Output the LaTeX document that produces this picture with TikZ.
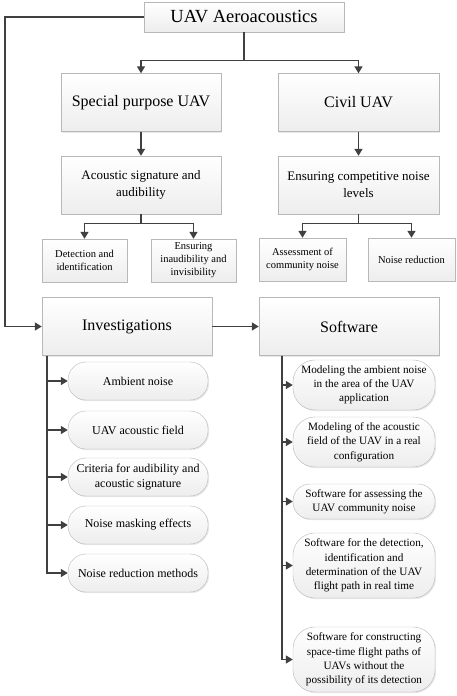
\documentclass[tikz,border=0pt]{standalone}
\usepackage{fontspec}
\setmainfont{Liberation Serif}
\usetikzlibrary{arrows.meta,shadows}

\definecolor{linegray}{HTML}{404040}
\definecolor{edgegray}{HTML}{B8B8B8}

\begin{document}
\begin{tikzpicture}[x=1pt,y=-1pt,
    panel/.style ={rectangle, draw=edgegray, top color=white, bottom color=gray!14,
      drop shadow={shadow xshift=1.2pt, shadow yshift=-1.2pt, fill=gray!35},
      align=center, inner sep=0pt},
    heading/.style ={panel, minimum width=200pt, minimum height=30pt, font=\fontsize{18.5}{22}\selectfont},
    topic/.style ={panel, minimum height=58pt, font=\fontsize{16}{19}\selectfont},
    subtopic/.style ={panel, minimum width=160pt, minimum height=58pt, font=\fontsize{13}{16.5}\selectfont},
    leaf/.style ={panel, minimum height=43pt, font=\fontsize{10.5}{13}\selectfont},
    item/.style ={panel, rounded corners=18pt, minimum width=140pt, minimum height=38pt, font=\fontsize{12}{14.5}\selectfont},
    tool/.style ={panel, rounded corners=22pt, minimum width=142pt, font=\fontsize{11.2}{14.3}\selectfont},
    link/.style ={draw=linegray, line width=1.4pt, -{Triangle[length=7pt,width=8pt]}}]
   \useasboundingbox (0,0) rectangle (457,696);
   % top level
   \node[heading] (uav) at (244,17) {UAV Aeroacoustics};
   \node[topic, minimum width=160pt] (special) at (141,102.5) {Special purpose UAV};
   \node[topic, minimum width=161pt] (civil) at (358.5,102.5) {Civil UAV};
   \node[subtopic] (signature) at (141,185) {Acoustic signature and\\audibility};
   \node[subtopic, minimum width=161pt] (levels) at (358.5,185) {Ensuring competitive noise\\levels};
   \node[leaf, minimum width=85pt] (detect) at (84.5,260.5) {Detection and\\identification};
   \node[leaf, minimum width=85pt] (inaudible) at (193.5,260.5) {Ensuring\\inaudibility and\\invisibility};
   \node[leaf, minimum width=87pt] (community) at (302.5,259.5) {Assessment of\\community noise};
   \node[leaf, minimum width=87pt] (reduction) at (411.5,259.5) {Noise reduction};
   \node[topic, minimum width=170pt] (invest) at (127,326.5) {Investigations};
   \node[topic, minimum width=180pt] (soft) at (349,326.5) {Software};
   % investigations
   \node[item] (ambient) at (138,381) {Ambient noise};
   \node[item] (field) at (138,430) {UAV acoustic field};
   \node[item] (criteria) at (138,477) {Criteria for audibility and\\acoustic signature};
   \node[item] (masking) at (138,525) {Noise masking effects};
   \node[item] (methods) at (138,573) {Noise reduction methods};
   % software
   \node[tool, minimum height=50pt] (modamb) at (364,385) {Modeling the ambient noise\\in the area of the UAV\\application};
   \node[tool, minimum height=50pt] (modfield) at (364,442) {Modeling of the acoustic\\field of the UAV in a real\\configuration};
   \node[tool, minimum height=35pt, rounded corners=17pt] (assess) at (364,501.5) {Software for assessing the\\UAV community noise};
   \node[tool, minimum height=65pt] (path) at (364,565.5) {Software for the detection,\\identification and\\determination of the UAV\\flight path in real time};
   \node[tool, minimum height=65pt] (hidden) at (364,659.5) {Software for constructing\\space-time flight paths of\\UAVs without the\\possibility of its detection};
   % connectors
   \coordinate (side) at (5,17);
   \draw[link] (uav.west) -- (side) |- (invest.west);
   \draw[link] (uav.south) -- ++(0,28) -| (special.north);
   \draw[link] (uav.south) -- ++(0,28) -| (civil.north);
   \draw[link] (special) to (signature);
   \draw[link] (civil) to (levels);
   \draw[link] (signature.south) -- ++(0,9) -| (detect.north);
   \draw[link] (signature.south) -- ++(0,9) -| (inaudible.north);
   \draw[link] (levels.south) -- ++(0,9) -| (community.north);
   \draw[link] (levels.south) -- ++(0,9) -| (reduction.north);
   \draw[link] (invest) to (soft);
   \foreach \n in {ambient,field,criteria,masking,methods}
      \draw[link] ([xshift=5pt]invest.south west) |- (\n.west);
   \foreach \n in {modamb,modfield,assess,path,hidden}
      \draw[link] ([xshift=23pt]soft.south west) |- (\n.west);
 \end{tikzpicture}
\end{document}
